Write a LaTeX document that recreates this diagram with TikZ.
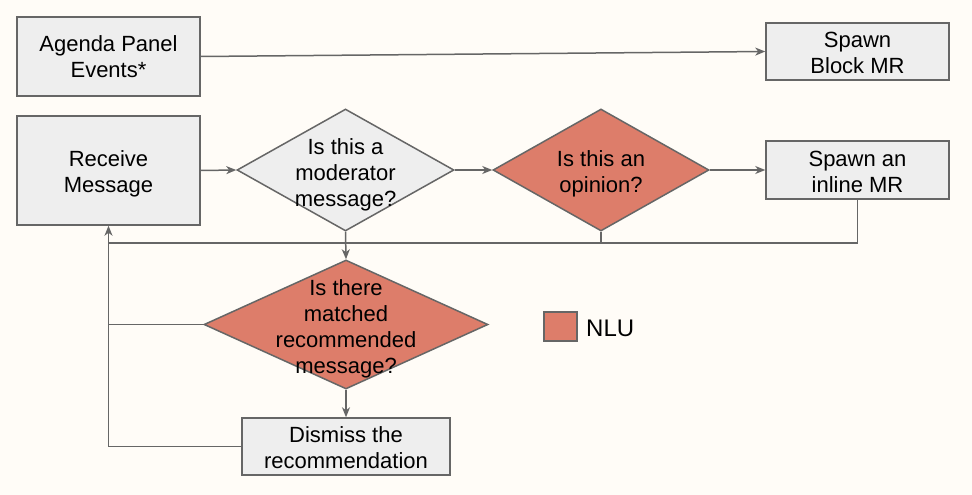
\documentclass[tikz,border=0pt]{standalone}
\usepackage{fontspec}
\setmainfont{Liberation Sans}
\usetikzlibrary{shapes.geometric,arrows.meta}
\definecolor{bg}{HTML}{FFFCF7}
\definecolor{boxfill}{HTML}{EEEEEE}
\definecolor{edge}{HTML}{666666}
\definecolor{nlu}{HTML}{DD7D6A}
\tikzset{
  base/.style={draw=edge, line width=1.5pt, inner sep=0pt},
  box/.style={base, rectangle, fill=boxfill},
  txt/.style={inner sep=0pt, font=\fontsize{22}{26}\selectfont, align=center, text=black, yshift=-3pt},
  conn/.style={draw=edge, line width=1.5pt},
  arr/.style={conn, -{Stealth[length=10pt,width=8pt,inset=3pt]}}
}
\begin{document}
\begin{tikzpicture}[x=1pt,y=-1pt]
\fill[bg] (0,0) rectangle (972,495);
\useasboundingbox (0,0) rectangle (972,495);

\node[box, minimum width=183pt, minimum height=79pt] (agenda) at (108.5,56.5) {};
\node[txt] (agendat) at (108.5,53.5) {Agenda Panel\\Events*};
\node[box, minimum width=183pt, minimum height=57pt] (block) at (857.5,51.5) {};
\node[txt] (blockt) at (857.5,50) {Spawn\\Block MR};
\node[box, minimum width=183pt, minimum height=109pt] (receive) at (108.5,170.5) {};
\node[txt] (receivet) at (receive) {Receive\\Message};
\node[base, diamond, fill=boxfill, minimum width=217pt, minimum height=122pt] (mod) at (345.5,170) {};
\node[txt] (modt) at (345.5,172) {Is this a\\moderator\\message?};
\node[base, diamond, fill=nlu, minimum width=216pt, minimum height=122pt] (op) at (601,170) {};
\node[txt] (opt) at (601,170.5) {Is this an\\opinion?};
\node[box, minimum width=183pt, minimum height=58pt] (inline) at (857.5,170) {};
\node[txt] (inlinet) at (857.5,169) {Spawn an\\inline MR};
\node[base, diamond, fill=nlu, minimum width=284pt, minimum height=129pt] (match) at (346,324.5) {};
\node[txt] (matcht) at (346,326) {Is there\\matched\\recommended\\message?};
\node[box, minimum width=208pt, minimum height=57pt] (dismiss) at (346,446.5) {};
\node[txt] (dismisst) at (346,444.5) {Dismiss the\\recommendation};
\node[base, rectangle, fill=nlu, minimum width=33pt, minimum height=29pt] (legend) at (560.5,326.5) {};
\node[inner sep=0pt, anchor=west, text=black, font=\fontsize{24}{28}\selectfont] (legendt) at (586,328) {NLU};

\coordinate (j) at (601,243);
\coordinate (k) at (108,243);

\draw[arr] (agenda.east) -- (block.west);
\draw[arr] (receive.east) -- (mod.west);
\draw[arr] (mod.east) -- (op.west);
\draw[arr] (op.east) -- (inline.west);
\draw[conn] (inline.south) |- (j);
\draw[conn] (op.south) -- (j) -- (k);
\draw[arr] (mod.south) -- (match.north);
\draw[arr] (match.south) -- (dismiss.north);
\draw[conn] (match.west) -- (match.west -| k);
\draw[arr] (dismiss.west) -| (receive.south);
\end{tikzpicture}
\end{document}
